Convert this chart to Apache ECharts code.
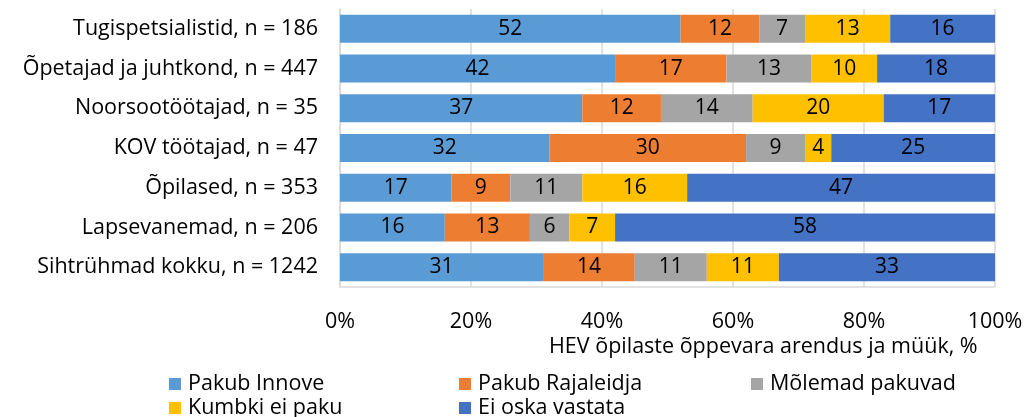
<!DOCTYPE html>
<html>
<head>
<meta charset="utf-8">
<script src="https://cdn.jsdelivr.net/npm/echarts@6/dist/echarts.min.js"></script>
<style>
  html, body { margin: 0; padding: 0; background: #fff; }
  #chart { width: 1026px; height: 417px; }
</style>
</head>
<body>
<div id="chart"></div>
<script>
var categories = [
    'Tugispetsialistid, n = 186',
    'Õpetajad ja juhtkond, n = 447',
    'Noorsootöötajad, n = 35',
    'KOV töötajad, n = 47',
    'Õpilased, n = 353',
    'Lapsevanemad, n = 206',
    'Sihtrühmad kokku, n = 1242'
];
var pakubInnove = [52, 42, 37, 32, 17, 16, 31];
var pakubRajaleidja = [12, 17, 12, 30, 9, 13, 14];
var molemadPakuvad = [7, 13, 14, 9, 11, 6, 11];
var kumbkiEiPaku = [13, 10, 20, 4, 16, 7, 11];
var eiOskaVastata = [16, 18, 17, 25, 47, 58, 33];

var seriesNames = ['Pakub Innove', 'Pakub Rajaleidja', 'Mõlemad pakuvad', 'Kumbki ei paku', 'Ei oska vastata'];
var seriesData = [pakubInnove, pakubRajaleidja, molemadPakuvad, kumbkiEiPaku, eiOskaVastata];
var colors = ['#5B9BD5', '#ED7D31', '#A5A5A5', '#FFC000', '#4472C4'];
var font = '"Open Sans", Lato, sans-serif';
var fs = 21.5;

function initChart(domId){
    var myChart = echarts.init(document.getElementById(domId));
    var legendPos = [[164, 368], [454, 368], [746, 368], [164, 392], [454, 392]];
    var legends = seriesNames.map(function (name, i) {
        return {
            data: [name],
            left: legendPos[i][0],
            top: legendPos[i][1],
            icon: 'rect',
            itemWidth: 12,
            itemHeight: 12,
            itemGap: 0,
            textStyle: { fontFamily: font, fontSize: fs, color: '#000', padding: [0, 0, 0, 2] }
        };
    });
    var series = seriesNames.map(function (name, i) {
        return {
            name: name,
            type: 'bar',
            stack: 'total',
            barWidth: 28,
            itemStyle: { color: colors[i] },
            label: {
                show: true,
                position: 'inside',
                color: '#000',
                fontFamily: font,
                fontSize: 21
            },
            emphasis: { disabled: true },
            data: seriesData[i]
        };
    });
    var option = {
        animation: false,
        color: colors,
        title: {
            text: 'HEV õpilaste õppevara arendus ja müük, %',
            left: 549,
            top: 336,
            padding: 0,
            textStyle: { fontFamily: font, fontSize: fs, fontWeight: 'normal', color: '#000' }
        },
        legend: legends,
        grid: {
            left: 340,
            right: 31,
            top: 9,
            bottom: 130,
            containLabel: false
        },
        xAxis: {
            type: 'value',
            min: 0,
            max: 100,
            interval: 20,
            axisLine: { show: true, lineStyle: { color: '#d9d9d9', width: 1.5 } },
            axisTick: { show: false },
            splitLine: { show: true, lineStyle: { color: '#d9d9d9', width: 1.5 } },
            axisLabel: {
                formatter: '{value}%',
                margin: 24,
                color: '#000',
                fontFamily: font,
                fontSize: fs
            }
        },
        yAxis: {
            type: 'category',
            inverse: true,
            data: categories,
            axisLine: { show: true, lineStyle: { color: '#d9d9d9', width: 1.5 } },
            axisTick: { show: false },
            axisLabel: {
                margin: 22,
                color: '#000',
                fontFamily: font,
                fontSize: fs
            }
        },
        series: series
    };
    myChart.setOption(option);
}

initChart('chart');
</script>
</body>
</html>
